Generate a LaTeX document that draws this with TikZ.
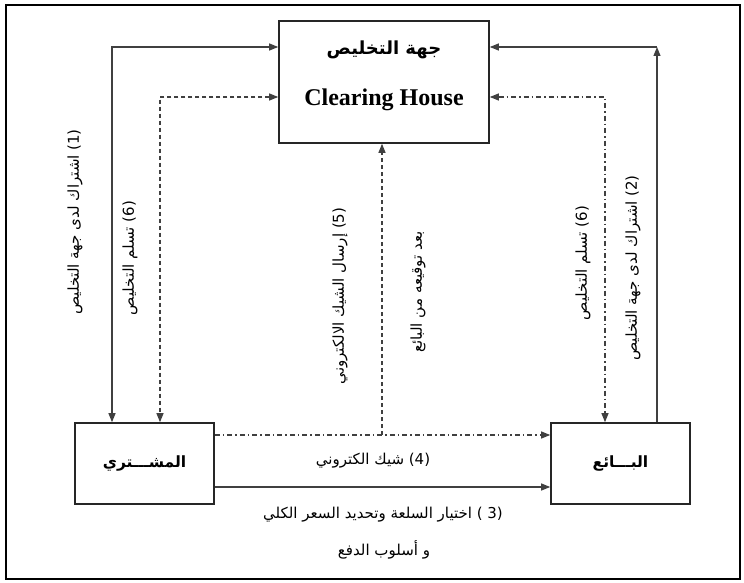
\documentclass[tikz,border=0pt]{standalone}
\usepackage{fontspec}
\setmainfont{Liberation Serif}
\newfontfamily\arabicfont[Script=Arabic]{DejaVu Sans}
\TeXXeTstate=1
\usetikzlibrary{arrows.meta}

\tikzset{
  box/.style={draw=black!85, line width=1.6pt, rectangle, inner sep=0pt},
  link/.style={draw=black!75, line width=1.1pt},
  tipend/.style={-{Triangle[length=9pt,width=7pt]}},
  tipboth/.style={{Triangle[length=9pt,width=7pt]}-{Triangle[length=9pt,width=7pt]}},
  dashlink/.style={dash pattern=on 4pt off 3pt},
  dotdashlink/.style={dash pattern=on 5pt off 3pt on 1.5pt off 3pt},
  vlabel/.style={font=\arabicfont\fontsize{15}{17}\selectfont, rotate=90, inner sep=1pt},
  hlabel/.style={font=\arabicfont\fontsize{15}{17}\selectfont, inner sep=1pt},
  title/.style={font=\arabicfont\bfseries\fontsize{18}{20}\selectfont},
  party/.style={font=\arabicfont\bfseries\fontsize{15.5}{17}\selectfont}
}

\begin{document}
\begin{tikzpicture}[x=1pt,y=-1pt]
\useasboundingbox (0,0) rectangle (744,583);
% outer frame
\draw[line width=2pt] (6,5) rectangle (740,579);

% the three parties
\node[box, minimum width=210pt, minimum height=122pt] (ch) at (384,82) {};
\node[title] (chAr) at (384,50) {\beginR جهة التخليص\endR};
\node[font=\bfseries\fontsize{24}{26}\selectfont] (chEn) at (384,100) {Clearing House};

\node[box, minimum width=139pt, minimum height=81pt] (buyer) at (144.5,463.5) {};
\node[party] (buyerT) at (buyer.center) {\beginR المشـــتري\endR};

\node[box, minimum width=139pt, minimum height=81pt] (seller) at (620.5,463.5) {};
\node[party] (sellerT) at (seller.center) {\beginR البـــائع\endR};

% corners and junctions of the connectors
\coordinate (c1) at (112,47);
\coordinate (c6) at (160,97);
\coordinate (c2) at (657,47);
\coordinate (c6b) at (605,97);
\coordinate (cx) at (382,435);
\coordinate (c3) at (0,487);

% (1) buyer <-> clearing house
\draw[link, tipboth] (ch.west |- c1) -- (c1) -- (c1 |- buyer.north);
% (6) clearing to buyer
\draw[link, dashlink, tipboth] (ch.west |- c6) -- (c6) -- (c6 |- buyer.north);
% (2) seller -> clearing house
\draw[link, tipend] (c2 |- seller.north) -- (c2);
\draw[link, tipend] (c2) -- (ch.east |- c2);
% (6) clearing to seller
\draw[link, dotdashlink, tipboth] (ch.east |- c6b) -- (c6b) -- (c6b |- seller.north);
% (4) electronic cheque
\draw[link, dotdashlink, tipend] (buyer.east |- cx) -- (seller.west |- cx);
% (5) sending the cheque
\draw[link, dashlink, tipend] (cx) -- (cx |- ch.south);
% (3) choosing the goods
\draw[link, tipend] (buyer.east |- c3) -- (seller.west |- c3);

% labels
\node[vlabel] (l1) at (75,222) {\beginR\beginL(1)\endL{} اشتراك لدى جهة التخليص\endR};
\node[vlabel] (l6a) at (130,258) {\beginR\beginL(6)\endL{} تسلم التخليص\endR};
\node[vlabel] (l5) at (340,296) {\beginR\beginL(5)\endL{} إرسال الشيك الالكتروني\endR};
\node[vlabel] (l5b) at (418,292) {\beginR بعد توقيعه من البائع\endR};
\node[vlabel] (l6b) at (583,263) {\beginR\beginL(6)\endL{} تسلم التخليص\endR};
\node[vlabel] (l2) at (633,268) {\beginR\beginL(2)\endL{} اشتراك لدى جهة التخليص\endR};
\node[hlabel] (l4) at (373,461) {\beginR\beginL(4)\endL{} شيك الكتروني\endR};
\node[hlabel] (l3a) at (383,515) {\beginR\hbox{(3 )} اختيار السلعة وتحديد السعر الكلي\endR};
\node[hlabel] (l3b) at (384,550) {\beginR و أسلوب الدفع\endR};
\end{tikzpicture}
\end{document}
